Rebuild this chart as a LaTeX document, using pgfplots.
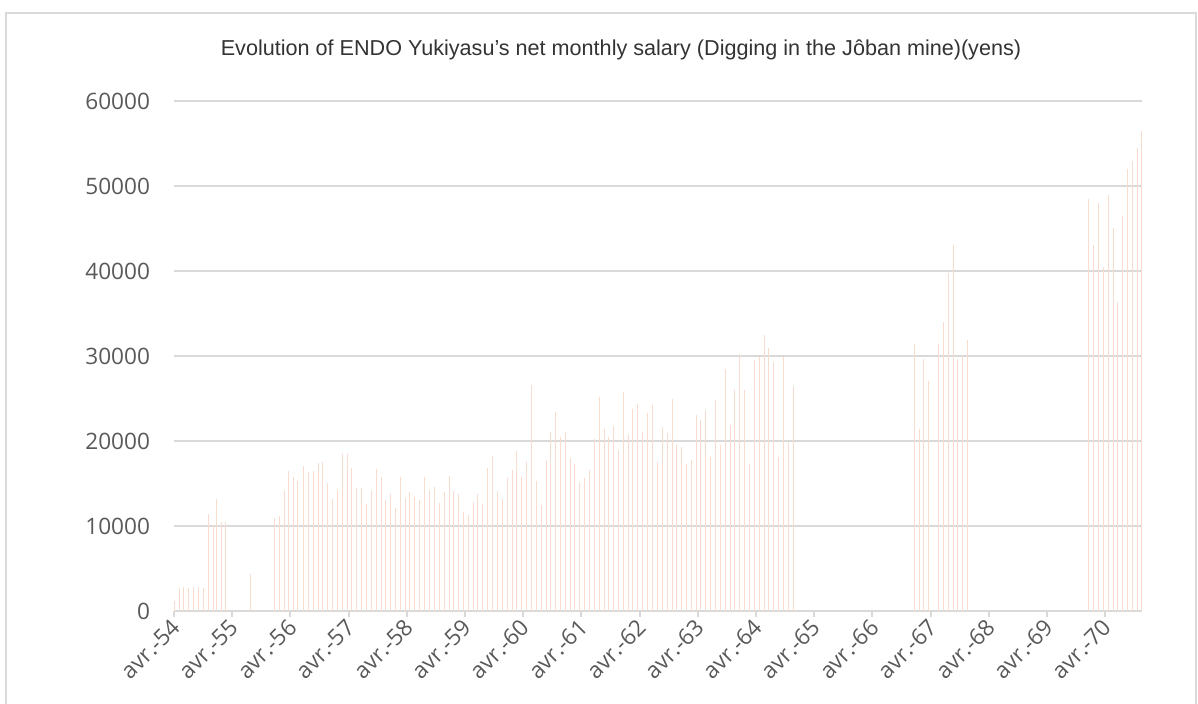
\documentclass[border=0pt]{standalone}
\usepackage{pgfplots}
\pgfplotsset{compat=1.18}
\usepackage{fontspec}
\setmainfont{Liberation Sans}
\newfontfamily\tickfont{Open Sans}
\definecolor{gridgray}{RGB}{217,217,217}
\definecolor{labgray}{RGB}{89,89,89}
\definecolor{barcol}{RGB}{248,220,206}
\begin{document}
\begin{tikzpicture}
\path[use as bounding box] (0pt,0pt) rectangle (599pt,352pt);
\draw[gridgray, line width=1pt] (2.75pt,-5pt) -- (2.75pt,345.25pt) -- (598pt,345.25pt) -- (598pt,-5pt);
\node[font=\fontsize{10.8}{13}\selectfont, text=black!80] at (310.5pt,327pt) {Evolution of ENDO Yukiyasu’s net monthly salary (Digging in the Jôban mine)(yens)};
\begin{axis}[
  at={(87pt,46.5pt)}, anchor=south west,
  scale only axis, width=484.15pt, height=255pt,
  xmin=0, xmax=199.65, ymin=0, ymax=60000,
  axis line style={draw=none},
  ytick={0,10000,...,60000},
  ymajorgrids, grid style={gridgray, line width=1pt},
  xtick={0,12,...,192},
  xtick pos=bottom,
  xticklabels={avr.-54,avr.-55,avr.-56,avr.-57,avr.-58,avr.-59,avr.-60,avr.-61,avr.-62,avr.-63,avr.-64,avr.-65,avr.-66,avr.-67,avr.-68,avr.-69,avr.-70},
  xticklabel style={rotate=45, anchor=east, font=\tickfont\fontsize{11.3}{13}\selectfont, text=labgray, yshift=-3pt, xshift=2pt},
  yticklabel style={font=\tickfont\fontsize{11.3}{13}\selectfont, text=labgray, xshift=-5.5pt},
  /pgf/number format/assume math mode=true,
  /pgf/number format/1000 sep={},
  scaled y ticks=false,
  ytick style={draw=none},
  xtick style={gridgray, line width=1pt},
  tick align=outside,
  major tick length=3pt,
  clip=false,
]
\draw[gridgray, line width=1pt] (axis cs:0,0) -- (axis cs:199.65,0);
\addplot[ycomb, no marks, color=barcol, line width=0.5pt] coordinates {
(0,1180) (1.10,2750) (2.06,2820) (2.95,2750) (3.99,2820) (5.02,2820) (6.05,2700)
(7.15,11400) (8.11,10160) (8.80,13140) (9.83,10430) (10.58,10430)
(15.80,4350)
(20.68,10940) (21.71,11220) (22.74,14240) (23.64,16430) (24.60,15800) (25.56,15250)
(26.66,17060) (27.76,16310) (28.72,16500) (29.75,17410) (30.72,17490) (31.61,15020)
(32.71,13180) (33.67,14240) (34.70,18510) (35.73,18430) (36.56,16860) (37.66,14430)
(38.62,14430) (39.72,12630) (40.68,14240) (41.71,16710) (42.74,15760) (43.63,13020)
(44.60,13730) (45.63,12120) (46.66,15730) (47.69,13260) (48.65,14000) (49.61,13410)
(50.57,13020) (51.60,15730) (52.63,14200) (53.67,14550) (54.70,12710) (55.73,14000)
(56.76,15920) (57.58,14080) (58.61,13730) (59.64,11610) (60.67,11290) (61.70,12780)
(62.53,13800) (63.56,12630) (64.59,16820) (65.62,18270) (66.65,14120) (67.68,13220)
(68.71,15650) (69.75,16550) (70.64,18820) (71.60,15730) (72.70,17570) (73.66,26630)
(74.76,15330)
(75.72,12430) (76.75,17800) (77.65,21020) (78.61,23410) (79.64,20470) (80.67,21020)
(81.70,18000) (82.53,17330) (83.56,15220) (84.59,15650) (85.62,16630) (86.65,20200)
(87.68,25220) (88.71,21410) (89.60,20510) (90.57,21730) (91.60,18940) (92.63,25730)
(93.66,20820) (94.55,23760) (95.51,24310) (96.54,21100) (97.57,23290) (98.60,24200)
(99.64,17490) (100.67,21650) (101.70,20940) (102.73,24940) (103.55,19530) (104.58,19290)
(105.61,17250) (106.65,17760) (107.68,23060) (108.50,22430) (109.53,23610) (110.56,18120)
(111.59,24820)
(112.62,19530) (113.65,28430) (114.68,21840) (115.58,26000) (116.61,30200) (117.64,26000)
(118.60,17290) (119.63,29530) (120.66,29920) (121.69,32510) (122.52,30900) (123.55,29290)
(124.58,18120) (125.61,29840) (126.64,19880) (127.67,26470)
(152.62,31470) (153.65,21450) (154.54,29590) (155.57,27110) (157.56,31360) (158.59,33950)
(159.62,39720) (160.65,43030) (161.48,29590) (162.51,30020) (163.54,31900)
(188.62,48480) (189.58,43010) (190.55,47950) (191.65,40450) (192.61,48970) (193.64,45000)
(194.57,36400) (195.56,46450) (196.52,51970) (197.55,52980) (198.58,54440) (199.55,56470)
};
\end{axis}
\end{tikzpicture}
\end{document}
